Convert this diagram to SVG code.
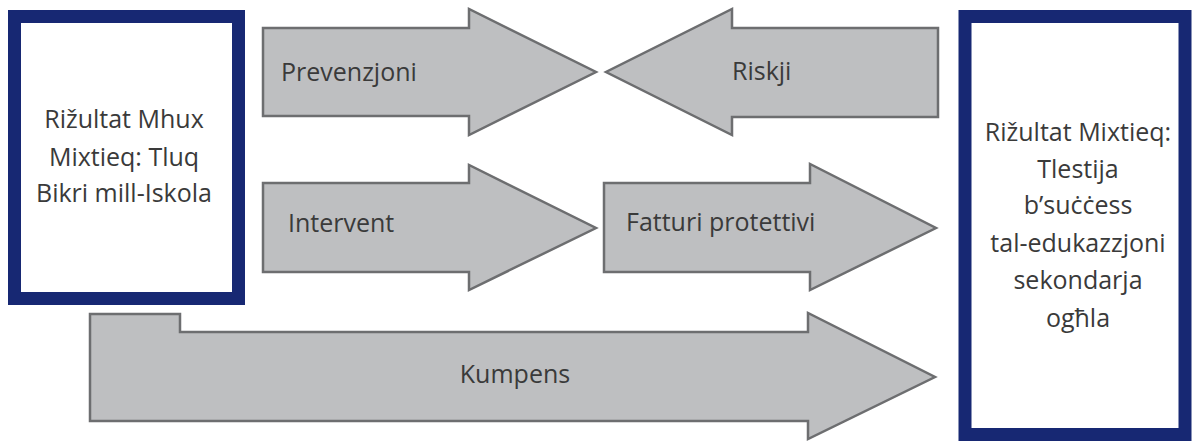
<svg xmlns="http://www.w3.org/2000/svg" width="1192" height="441" viewBox="0 0 1192 441">
<style>
.box{fill:#ffffff;stroke:#172873;stroke-width:13}
.arrow{fill:#bebfc1;stroke:#6d6e70;stroke-width:2.5;stroke-linejoin:miter}
.t{font-family:"Open Sans","Liberation Sans",sans-serif;font-size:25px;fill:#3a3a3a}
.c{text-anchor:middle}
</style>
<rect width="1192" height="441" fill="#ffffff"/>
<g id="connectors">
<g id="arrow-prevenzjoni">
<polygon class="arrow" points="263,28 469,28 469,9 596,72 469,135 469,116 263,116"/>
<text class="t" x="281" y="81">Prevenzjoni</text>
</g>
<g id="arrow-riskji">
<polygon class="arrow" points="938,28 732,28 732,9 606,72 732,135 732,117 938,117"/>
<text class="t" x="732" y="80">Riskji</text>
</g>
<g id="arrow-intervent">
<polygon class="arrow" points="263,183 469,183 469,165 596,228 469,290 469,272 263,272"/>
<text class="t" x="288" y="232">Intervent</text>
</g>
<g id="arrow-fatturi">
<polygon class="arrow" points="604,183 810,183 810,164 936,228 810,290 810,272 604,272"/>
<text class="t" x="626" y="231">Fatturi protettivi</text>
</g>
<g id="arrow-kumpens">
<polygon class="arrow" points="90,314 180,314 180,332 808,332 808,313 935,377 808,439 808,421 90,421"/>
<text class="t c" x="515" y="383">Kumpens</text>
</g>
</g>
<g id="node-left">
<rect class="box" x="14.5" y="16.5" width="224" height="282"/>
<text class="t c" x="124" y="128">Rižultat Mhux</text>
<text class="t c" x="124" y="166">Mixtieq: Tluq</text>
<text class="t c" x="124" y="202">Bikri mill-Iskola</text>
</g>
<g id="node-right">
<rect class="box" x="965" y="16.5" width="220" height="418"/>
<text class="t c" x="1078" y="141">Rižultat Mixtieq:</text>
<text class="t c" x="1078" y="178">Tlestija</text>
<text class="t c" x="1078" y="214">b’suċċess</text>
<text class="t c" x="1078" y="252">tal-edukazzjoni</text>
<text class="t c" x="1078" y="289">sekondarja</text>
<text class="t c" x="1078" y="327">ogħla</text>
</g>
</svg>
